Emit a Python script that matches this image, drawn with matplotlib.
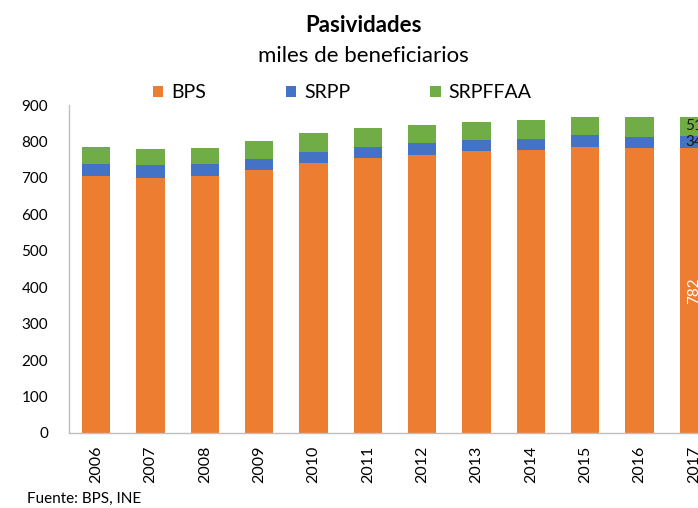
import matplotlib
matplotlib.use("Agg")
import matplotlib.pyplot as plt
import numpy as np

plt.rcParams["font.family"] = ["Lato", "DejaVu Sans"]

years = ["2006", "2007", "2008", "2009", "2010", "2011",
         "2012", "2013", "2014", "2015", "2016", "2017"]
bps = [706, 701, 706, 723, 742, 755, 764, 773, 777, 786, 783, 782]
srpp = [31, 33, 31, 29, 30, 31, 31, 31, 31, 32, 30, 34]
srpffaa = [47, 44, 46, 49, 50, 50, 50, 49, 52, 50, 54, 51]

C_BPS = "#ED7D31"
C_SRPP = "#4472C4"
C_FFAA = "#70AD47"

W, H = 698, 508
fig = plt.figure(figsize=(W / 100, H / 100), dpi=100, facecolor="white")
# axes run past the right edge, like the cropped source
ax = fig.add_axes([69 / W, 75 / H, 652 / W, 328 / H])

x = np.arange(len(years))
w = 0.52
bps_a = np.array(bps)
srpp_a = np.array(srpp)
ffaa_a = np.array(srpffaa)
b1 = ax.bar(x, bps_a, w, color=C_BPS, label="BPS")
b2 = ax.bar(x, srpp_a, w, bottom=bps_a, color=C_SRPP, label="SRPP")
b3 = ax.bar(x, ffaa_a, w, bottom=bps_a + srpp_a, color=C_FFAA, label="SRPFFAA")

# data labels on the last bar
i = len(years) - 1
ax.text(x[i], bps_a[i] / 2, str(bps[i]), rotation=90, color="white",
        ha="center", va="center", fontsize=11)
ax.text(x[i], bps_a[i] + srpp_a[i] / 2, str(srpp[i]), color="#1a1a1a",
        ha="center", va="center", fontsize=11)
ax.text(x[i], bps_a[i] + srpp_a[i] + ffaa_a[i] / 2, str(srpffaa[i]),
        color="#1a1a1a", ha="center", va="center", fontsize=11)

ax.set_xlim(-0.5, len(years) - 0.5)
ax.set_ylim(0, 900)
ax.set_yticks(range(0, 901, 100))
ax.set_xticks(x)
ax.set_xticklabels(years, rotation=90, fontsize=11.5)
ax.tick_params(axis="y", labelsize=11, length=0, pad=15)
ax.tick_params(axis="x", length=0, pad=9)
for s in ("top", "right"):
    ax.spines[s].set_visible(False)
for s in ("left", "bottom"):
    ax.spines[s].set_color("#bfbfbf")
    ax.spines[s].set_linewidth(1.0)

fig.text(364 / W, 1 - 32 / H, "Pasividades", ha="center", va="baseline",
         fontsize=16, fontweight="bold")
fig.text(363 / W, 1 - 62 / H, "miles de beneficiarios", ha="center",
         va="baseline", fontsize=16)
fig.legend(handles=[b1, b2, b3], loc="center", bbox_to_anchor=(342 / W, 1 - 93 / H),
           ncol=3, frameon=False, fontsize=14, handlelength=0.55, handleheight=0.55,
           handletextpad=0.4, columnspacing=4.1, borderaxespad=0, borderpad=0)
fig.text(27 / W, 1 - 503 / H, "Fuente: BPS, INE", ha="left", va="baseline",
         fontsize=11)

fig.savefig("out.png", dpi=100, facecolor="white")
